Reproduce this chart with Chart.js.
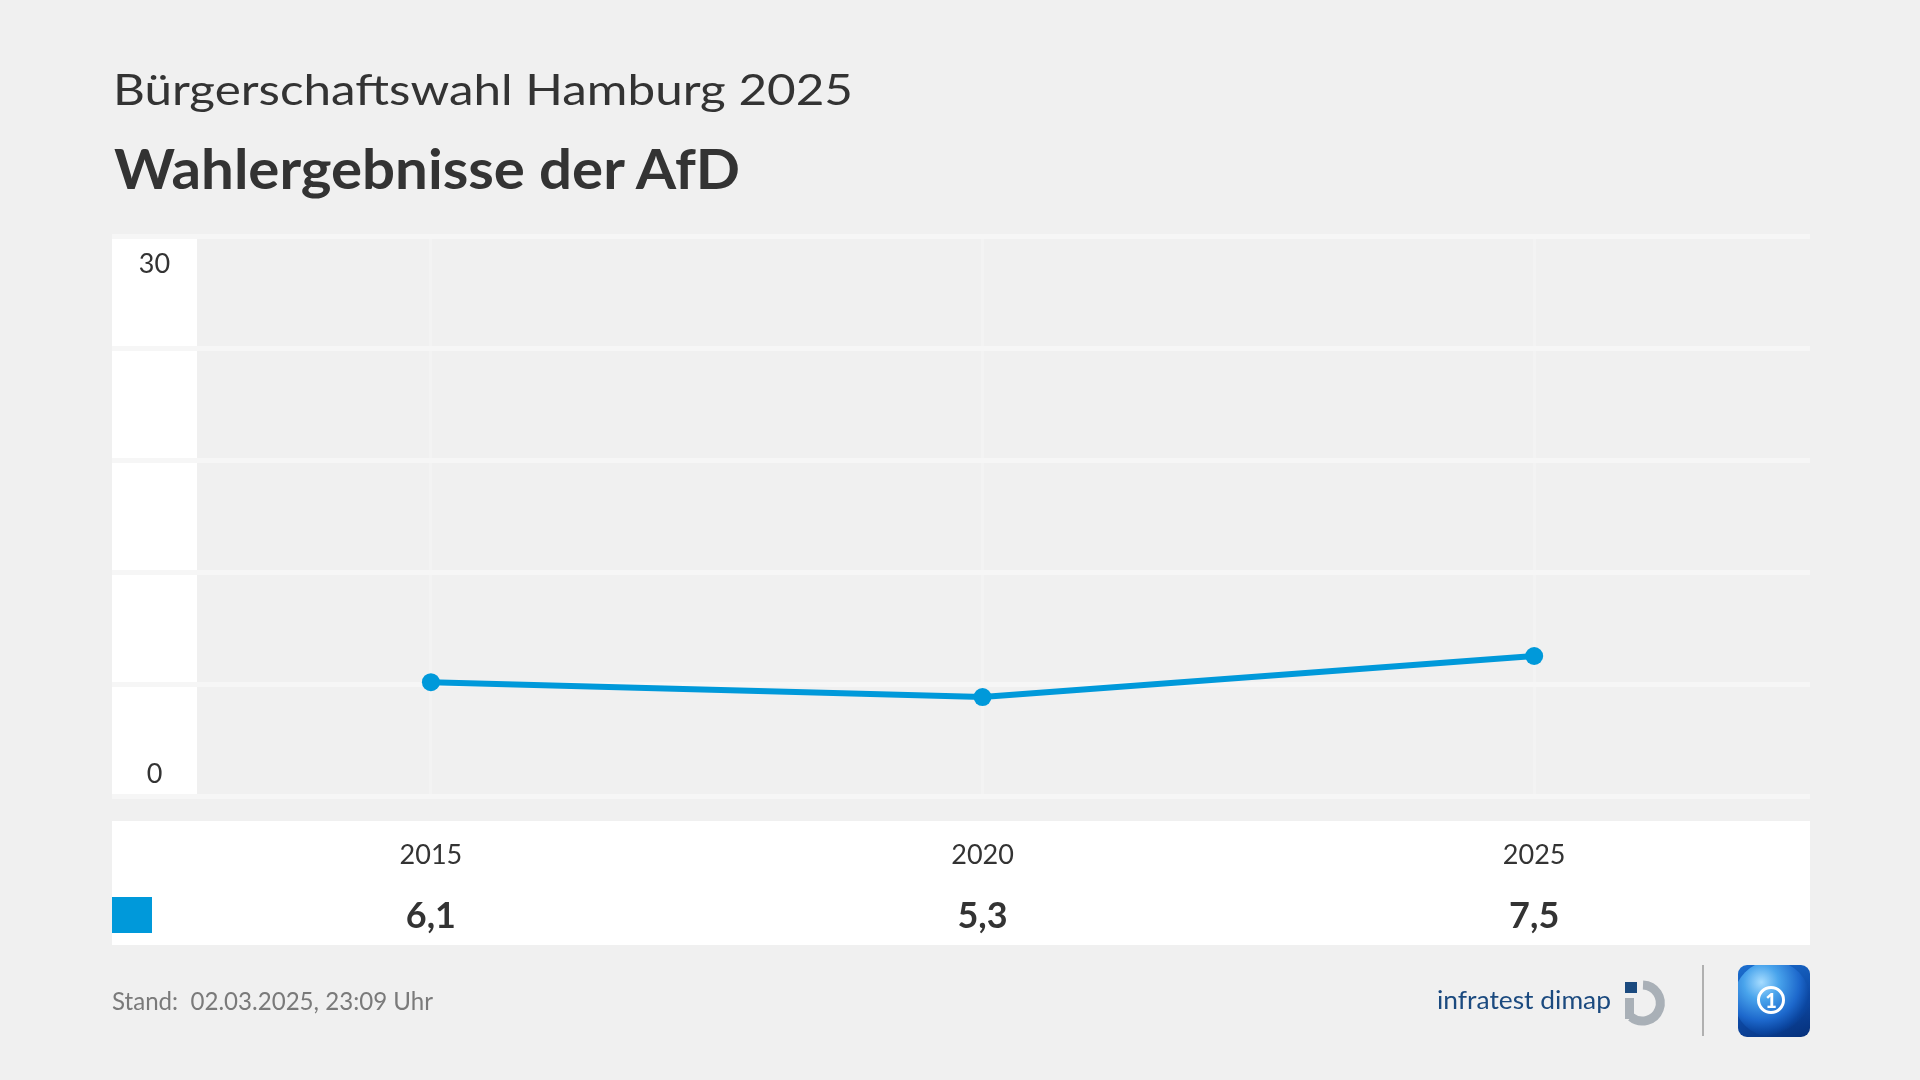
<!DOCTYPE html>
<html><head><meta charset="utf-8">
<script src="https://cdn.jsdelivr.net/npm/chart.js@4"></script>
<style>
html,body{margin:0;padding:0;background:#f0f0f0;width:1920px;height:1080px;overflow:hidden;font-family:Lato,"Noto Sans",sans-serif;}
#c{position:absolute;left:0;top:0;}
.t{position:absolute;white-space:nowrap;line-height:1;transform-origin:0 0;}
</style></head><body>
<canvas id="c" width="1920" height="1080"></canvas>
<div class="t fit" style="left:113px;top:67px;font-size:43px;color:#333" data-w="740">Bürgerschaftswahl Hamburg 2025</div>
<div class="t fit" style="left:114px;top:140px;font-size:56px;font-weight:700;color:#333" data-w="626">Wahlergebnisse der AfD</div>
<div class="t fit" style="left:112px;top:988px;font-size:25px;color:#7a7a7a" data-w="321">Stand:&nbsp; 02.03.2025, 23:09 Uhr</div>
<div class="t fit" style="left:1437px;top:987px;font-size:25px;color:#1b4a7f" data-w="174">infratest dimap</div>
<svg style="position:absolute;left:1620px;top:977px" width="56" height="52" viewBox="0 0 56 52">
  <rect x="5" y="5" width="12" height="11" fill="#1b4a7f"/>
  <path d="M 23 8 A 18 18 0 1 1 11 40" fill="none" stroke="#a9b0b7" stroke-width="9"/>
  <rect x="5" y="21" width="9" height="21" fill="#a9b0b7"/>
</svg>
<div style="position:absolute;left:1702px;top:965px;width:2px;height:71px;background:#b0b0b0"></div>
<div style="position:absolute;left:1738px;top:965px;width:72px;height:72px;border-radius:9px;overflow:hidden;background:linear-gradient(160deg,#1c6fd0 0%,#0d4aa6 55%,#06307a 100%);">
  <div style="position:absolute;left:-4px;top:-4px;width:76px;height:76px;border-radius:50%;background:radial-gradient(circle at 36% 28%, #a6dcff 0%, #49a4ec 24%, #1d68cc 52%, #0b46a0 68%, rgba(8,50,130,0) 74%);"></div>
  <div style="position:absolute;left:19px;top:21px;width:22px;height:22px;border:3px solid #fff;border-radius:50%;text-align:center;line-height:22px;color:#fff;font-weight:900;font-size:20px;font-family:Lato,sans-serif;">1</div>
</div>
<script>
const years = [2015, 2020, 2025];
const afdResults = [6.1, 5.3, 7.5];
const resultLabels = ['6,1', '5,3', '7,5'];
const yGridValues = [0, 6, 12, 18, 24, 30];
const yLabelValues = [30, 0];
const yLabelTexts = ['30', '0'];

const lineColor = '#0099da';
const gridColor = '#f6f6f6';

const panelPlugin = {
  id: 'panel',
  beforeDraw(chart) {
    const {ctx, chartArea: a, scales: {y}} = chart;
    ctx.save();
    ctx.fillStyle = '#ffffff';
    ctx.fillRect(y.left, a.top, y.width, a.bottom - a.top);
    ctx.restore();
  },
  afterDraw(chart) {
    const {ctx, chartArea: a, scales: {x, y}} = chart;
    ctx.save();
    ctx.fillStyle = '#333333';
    ctx.textAlign = 'center';
    ctx.textBaseline = 'alphabetic';
    ctx.font = '27px Lato';
    const cx = (y.left + y.right) / 2;
    ctx.fillText(yLabelTexts[0], cx, y.getPixelForValue(yLabelValues[0]) + 37);
    ctx.fillText(yLabelTexts[1], cx, y.getPixelForValue(yLabelValues[1]) - 13);
    const tTop = a.bottom + 25, tBot = a.bottom + 149;
    ctx.fillStyle = '#ffffff';
    ctx.fillRect(y.left, tTop, a.right - y.left, tBot - tTop);
    ctx.fillStyle = lineColor;
    ctx.fillRect(y.left, a.bottom + 101, 40, 36);
    ctx.fillStyle = '#333333';
    years.forEach((yr, i) => {
      const px = x.getPixelForValue(yr);
      ctx.font = '27px Lato';
      ctx.fillText(String(yr), px, a.bottom + 68);
      ctx.font = 'bold 36px Lato';
      ctx.fillText(resultLabels[i], px, a.bottom + 132);
    });
    ctx.restore();
  }
};

function build() {
  new Chart(document.getElementById('c'), {
    type: 'line',
    data: {
      datasets: [{
        data: years.map((yr, i) => ({x: yr, y: afdResults[i]})),
        borderColor: lineColor,
        backgroundColor: lineColor,
        borderWidth: 6,
        pointRadius: 9,
        pointBorderWidth: 0,
        pointBackgroundColor: lineColor,
        tension: 0,
        clip: false
      }]
    },
    options: {
      responsive: false,
      animation: false,
      devicePixelRatio: 1,
      layout: {autoPadding: false, padding: {left: 112, right: 110, top: 236, bottom: 284}},
      plugins: {legend: {display: false}, tooltip: {enabled: false}},
      scales: {
        x: {
          type: 'linear',
          min: 2012.88,
          max: 2027.5,
          afterBuildTicks(s) { s.ticks = years.map(v => ({value: v})); },
          grid: {color: '#f3f3f3', lineWidth: 3, drawTicks: false},
          border: {display: false},
          ticks: {display: false}
        },
        y: {
          min: 0,
          max: 30,
          afterBuildTicks(s) { s.ticks = yGridValues.map(v => ({value: v})); },
          grid: {color: gridColor, lineWidth: 5, drawTicks: true, tickLength: 85},
          border: {display: false},
          ticks: {display: false}
        }
      }
    },
    plugins: [panelPlugin]
  });
}

function fitTexts() {
  document.querySelectorAll('.fit').forEach(el => {
    const w = el.getBoundingClientRect().width;
    const target = parseFloat(el.dataset.w);
    if (w > 0) el.style.transform = 'scaleX(' + (target / w) + ')';
  });
}

(document.fonts ? document.fonts.ready : Promise.resolve()).then(() => {
  fitTexts();
  build();
});
</script>
</body></html>
